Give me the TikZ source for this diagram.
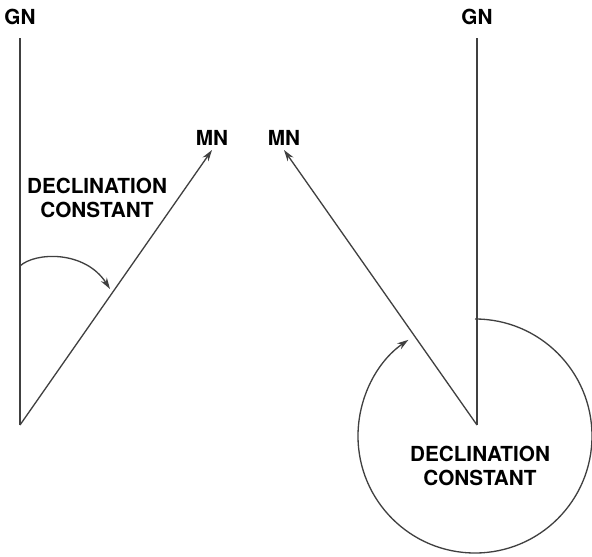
\documentclass[tikz,border=0pt]{standalone}
\usepackage{fontspec}
\setmainfont{TeX Gyre Heros}
\usetikzlibrary{arrows.meta}

\begin{document}
\begin{tikzpicture}[
    x=0.02cm, y=0.02cm,
    >={Stealth[length=6.5pt,width=4pt]},
    line/.style={black!75,line width=0.75pt},
    vec/.style={->,black!75,line width=0.75pt},
    lbl/.style={font=\fontsize{11.8}{13.7}\selectfont\bfseries,inner sep=2.6pt},
    gnlbl/.style={lbl,inner ysep=7.4pt,anchor=south},
    txt/.style={lbl,align=center},
]
\useasboundingbox (0,0) rectangle (592,556);

% Left: declination east
\coordinate (oL) at (20,131);
\node[gnlbl] (gnL) at (20,518) {GN};
\node[lbl,anchor=south] (mnL) at (212,406) {MN};
\node[txt] (declL) at (97,358) {DECLINATION\\CONSTANT};

\draw[line] (oL) -- (gnL.south);
\draw[vec] (oL) -- (mnL.south);
\draw[vec] (20,290) .. controls (35,304) and (85,306) .. (110,267);

% Right: declination west
\coordinate (oR) at (477,131);
\node[gnlbl] (gnR) at (477,518) {GN};
\node[lbl,anchor=south] (mnR) at (284,406) {MN};
\node[txt] (declR) at (480,90) {DECLINATION\\CONSTANT};

\draw[line] (oR) -- (gnR.south);
\draw[vec] (oR) -- (mnR.south);
\draw[vec] (475,237) arc[start angle=90,end angle=-235.3,radius=117];
\end{tikzpicture}
\end{document}
